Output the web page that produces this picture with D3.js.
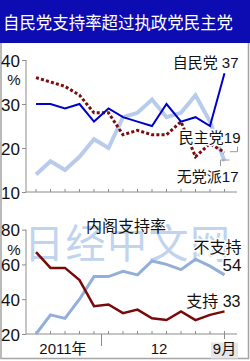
<!DOCTYPE html>
<html>
<head>
<meta charset="utf-8">
<script src="https://cdn.jsdelivr.net/npm/d3@7"></script>
<style>
  body { margin: 0; background: #fff; }
  svg { display: block; font-family: "Liberation Sans", "Noto Sans CJK SC", sans-serif; }
</style>
</head>
<body>
<svg id="chart"></svg>
<script>
// monthly polls, Aug 2011 - Sep 2012
const months = ["2011-08", "2011-09", "2011-10", "2011-11", "2011-12", "2012-01", "2012-02",
    "2012-03", "2012-04", "2012-05", "2012-06", "2012-07", "2012-08", "2012-09"];

// party support (%)
const ldp = [30, 30, 29, 30, 26, 29, 27, 26, 25, 30, 26, 27, 25, 37];
const dpj = [36, 35, 34, 32, 28, 28, 23, 24, 23, 23, 26, 18, 21, 19];
const indep = [14, 17, 15, 18, 22, 20, 27, 28, 31, 27, 28, 32, 26, 17];

// cabinet approval (%)
const approve = [67, 58, 58, 51, 36, 37, 32, 34, 29, 28, 33, 28, 31, 33];
const disapprove = [20, 31, 29, 40, 53, 53, 56, 54, 62, 60, 57, 63, 59, 54];

const topTicks = [10, 20, 30, 40];
const bottomTicks = [20, 40, 60, 80];
const yearLabels = ["2011年", "12", "9月"];

const width = 250, height = 361;
const svg = d3.select("#chart").attr("width", width).attr("height", height);

// Title bar
svg.append("rect").attr("x", 0).attr("y", 0).attr("width", width).attr("height", 43).attr("fill", "#0c0cb2");
svg.append("text")
    .attr("x", 3).attr("y", 29)
    .attr("fill", "#fff")
    .attr("textLength", 230)
    .attr("lengthAdjust", "spacingAndGlyphs")
    .style("font-size", "17.5px")
    .style("font-family", "Noto Sans CJK SC")
    .text("自民党支持率超过执政党民主党");

// Outer frame
svg.append("path")
    .attr("d", `M1,43 V358.5 H248.5 V43`)
    .attr("fill", "none")
    .attr("stroke", "#a4a4a4")
    .attr("stroke-width", 1.5);

const x = d3.scalePoint().domain(months).range([36, 224.5]);
const yTop = d3.scaleLinear().domain([10, 40]).range([192, 60]);
const yBot = d3.scaleLinear().domain([20, 80]).range([334, 229.6]);

const axisColor = "#8c8c8c";

function drawYAxis(scale, ticks) {
    const g = svg.append("g").attr("transform", "translate(26,0)")
        .call(d3.axisLeft(scale).tickValues(ticks).tickSize(4).tickPadding(2).tickFormat(d3.format("d")));
    g.select(".domain").attr("stroke", axisColor).attr("d", `M0,${scale.range()[0]}V${scale.range()[1]}`);
    g.selectAll(".tick line").attr("stroke", axisColor);
    g.selectAll(".tick text").attr("fill", "#111").style("font-size", "17px").attr("dy", "0.36em");
    // % under top tick
    svg.append("text")
        .attr("x", 14).attr("y", scale(ticks[ticks.length - 1]) + 25)
        .attr("text-anchor", "middle")
        .attr("fill", "#111")
        .style("font-size", "15px")
        .text("%");
}

function drawXAxis(y0) {
    svg.append("line").attr("x1", 26).attr("x2", 237).attr("y1", y0).attr("y2", y0)
        .attr("stroke", axisColor);
    svg.selectAll(null).data(months).enter().append("line")
        .attr("x1", d => x(d)).attr("x2", d => x(d))
        .attr("y1", y0).attr("y2", y0 - 3)
        .attr("stroke", axisColor);
}

function drawLine(data, scale, color, w, dash) {
    const line = d3.line().x((d, i) => x(months[i])).y(d => scale(d));
    const p = svg.append("path").datum(data)
        .attr("d", line)
        .attr("fill", "none")
        .attr("stroke", color)
        .attr("stroke-width", w)
        .attr("stroke-linejoin", "miter");
    if (dash) p.attr("stroke-dasharray", dash);
}

function label(txt, xPos, yPos, size) {
    svg.append("text")
        .attr("x", xPos).attr("y", yPos)
        .attr("text-anchor", "end")
        .attr("fill", "#111")
        .attr("stroke", "#fff").attr("stroke-width", 3)
        .style("paint-order", "stroke")
        .style("font-size", size)
        .text(txt);
}

// ---------- Top: party support ----------
drawYAxis(yTop, topTicks);
drawXAxis(192);

drawLine(indep, yTop, "#b9cbea", 4);
drawLine(dpj, yTop, "#7a0d0d", 3, "3,2.2");
drawLine(ldp, yTop, "#0000cc", 2);

const last = months.length - 1, xl = x(months[last]);

// leaders to the labels
svg.append("path").attr("d", `M${xl + 5.5},151.7 H${xl + 13} V146.5`)
    .attr("fill", "none").attr("stroke", "#9a9a9a");
svg.append("path").attr("d", `M${xl - 4},166 V160 H${xl + 5}`)
    .attr("fill", "none").attr("stroke", "#9a9a9a");

label(`自民党 ${ldp[last]}`, xl + 14, yTop(ldp[last]) - 5, "15px");
label(`民主党${dpj[last]}`, xl + 16, 142.5, "15px");
label(`无党派${indep[last]}`, xl + 14, 181.5, "15px");

// ---------- Bottom: cabinet approval ----------
// watermark
svg.append("text")
    .attr("x", 24).attr("y", 258)
    .attr("fill", "#c0d4ee")
    .style("font-size", "40px")
    .style("letter-spacing", "1.5px")
    .style("font-family", "Noto Sans CJK SC")
    .text("日经中文网");

drawYAxis(yBot, bottomTicks);
drawXAxis(334);

// year separator and last-month tick
svg.append("line").attr("x1", 101.5).attr("x2", 101.5).attr("y1", 334).attr("y2", 346).attr("stroke", axisColor);
svg.append("line").attr("x1", xl).attr("x2", xl).attr("y1", 334).attr("y2", 339).attr("stroke", axisColor);
svg.append("rect").attr("x", 211).attr("y", 342.5).attr("width", 27).attr("height", 16).attr("fill", "#e6e6e6");

svg.selectAll(null).data(yearLabels).enter().append("text")
    .attr("x", (d, i) => [63, 159, xl][i])
    .attr("y", 354)
    .attr("text-anchor", "middle")
    .attr("fill", "#111")
    .style("font-size", "15px")
    .text(d => d);

svg.append("text")
    .attr("x", 86).attr("y", 232)
    .attr("fill", "#111")
    .style("font-size", "16px")
    .text("内阁支持率");

drawLine(disapprove, yBot, "#93afd8", 3);
drawLine(approve, yBot, "#7a0a0a", 2.5);

label("不支持", xl + 17, 253, "16px");
label(`${disapprove[last]}`, xl + 17, 271, "17px");
label(`支持 ${approve[last]}`, xl + 16, 306.5, "16px");
</script>
</body>
</html>
